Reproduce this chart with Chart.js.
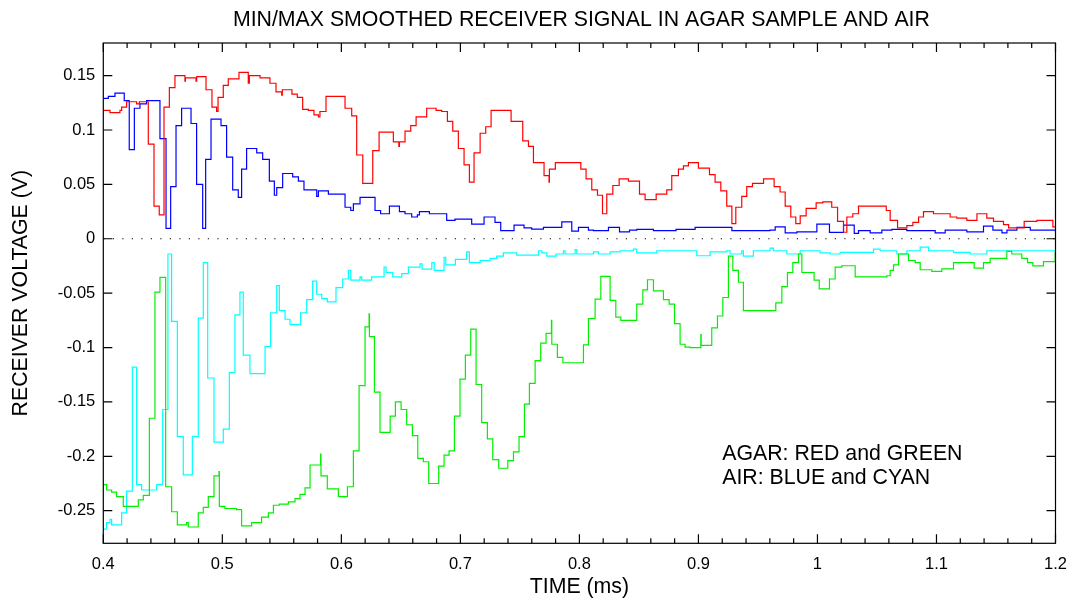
<!DOCTYPE html>
<html><head><meta charset="utf-8">
<script src="https://cdn.jsdelivr.net/npm/chart.js@4/dist/chart.umd.min.js"></script>
<style>html,body{margin:0;padding:0;background:#fff;overflow:hidden}</style>
</head><body>
<canvas id="c" width="1075" height="598"></canvas>
<script>
// ---------- DATA ----------
const titleText = "MIN/MAX SMOOTHED RECEIVER SIGNAL IN AGAR SAMPLE AND AIR";
const xTitle = "TIME (ms)";
const yTitle = "RECEIVER VOLTAGE (V)";
const noteLines = ["AGAR: RED and GREEN", "AIR: BLUE and CYAN"];
const noteT = 0.92;
const noteV = [-0.203, -0.2255];

const xTicks = [0.4,0.5,0.6,0.7,0.8,0.9,1.0,1.1,1.2];
const xTickLabels = ["0.4","0.5","0.6","0.7","0.8","0.9","1","1.1","1.2"];
const xMinor = [0.42,0.44,0.46,0.48,0.52,0.54,0.56,0.58,0.62,0.64,0.66,0.68,0.72,0.74,0.76,0.78,0.82,0.84,0.86,0.88,0.92,0.94,0.96,0.98,1.02,1.04,1.06,1.08,1.12,1.14,1.16,1.18];
const yTicks = [0.15,0.1,0.05,0,-0.05,-0.1,-0.15,-0.2,-0.25];
const yTickLabels = ["0.15","0.1","0.05","0","-0.05","-0.1","-0.15","-0.2","-0.25"];

const redT = [0.400,0.4056,0.414,0.4154,0.4196,0.428,0.4303,0.4378,0.4426,0.447,0.451,0.4555,0.4602,0.4686,0.469,0.4779,0.4785,0.4863,0.4913,0.4952,0.4964,0.5008,0.505,0.514,0.5218,0.5227,0.5317,0.540,0.5451,0.5499,0.5504,0.5585,0.563,0.5675,0.5723,0.577,0.5807,0.582,0.5871,0.6031,0.6087,0.6129,0.618,0.6264,0.6317,0.6437,0.6483,0.6488,0.6535,0.6583,0.6628,0.6717,0.6796,0.6843,0.6891,0.6936,0.6983,0.7031,0.7076,0.7115,0.7166,0.7213,0.7258,0.7426,0.7524,0.7572,0.7614,0.7703,0.7745,0.7748,0.7798,0.8012,0.8056,0.8104,0.8152,0.8194,0.823,0.8281,0.8334,0.8412,0.8505,0.8552,0.8645,0.8734,0.8776,0.8832,0.8874,0.8916,0.900,0.9093,0.914,0.9188,0.9238,0.9281,0.9314,0.9364,0.9406,0.9454,0.9547,0.9636,0.9686,0.9729,0.9776,0.9818,0.9855,0.9905,0.9989,1.0045,1.012,1.0169,1.0219,1.0247,1.0297,1.0345,1.0578,1.0611,1.0673,1.0751,1.0802,1.085,1.0891,1.0975,1.1115,1.1171,1.1255,1.134,1.1423,1.1479,1.1563,1.1606,1.1661,1.1737,1.1844,1.1978,1.200];
const redV = [0.118,0.116,0.118,0.121,0.126,0.124,0.126,0.087,0.030,0.022,0.121,0.139,0.150,0.145,0.148,0.145,0.149,0.137,0.121,0.117,0.130,0.141,0.147,0.153,0.143,0.150,0.148,0.143,0.135,0.132,0.137,0.133,0.130,0.119,0.118,0.114,0.112,0.117,0.131,0.120,0.113,0.077,0.051,0.081,0.098,0.089,0.085,0.089,0.099,0.104,0.112,0.120,0.118,0.117,0.108,0.099,0.083,0.068,0.052,0.079,0.097,0.103,0.118,0.108,0.090,0.085,0.070,0.058,0.052,0.064,0.070,0.064,0.055,0.045,0.040,0.023,0.041,0.049,0.055,0.053,0.041,0.036,0.041,0.045,0.058,0.064,0.067,0.070,0.065,0.059,0.052,0.044,0.030,0.014,0.029,0.039,0.048,0.051,0.055,0.048,0.043,0.030,0.020,0.014,0.021,0.028,0.033,0.034,0.029,0.016,0.006,0.020,0.023,0.030,0.026,0.017,0.010,0.012,0.015,0.020,0.025,0.023,0.020,0.019,0.017,0.023,0.019,0.016,0.013,0.010,0.010,0.016,0.017,0.011,0.011];

const blueT = [0.400,0.4042,0.4098,0.4176,0.4218,0.4261,0.4308,0.4364,0.4476,0.4527,0.4566,0.4611,0.4658,0.4737,0.4784,0.4835,0.486,0.4905,0.4989,0.5036,0.5087,0.5134,0.5162,0.5204,0.5289,0.5339,0.5395,0.5437,0.5457,0.5507,0.5591,0.5639,0.5686,0.5793,0.5807,0.5891,0.6031,0.6079,0.6101,0.6157,0.6283,0.633,0.6404,0.6488,0.6535,0.6591,0.6639,0.6656,0.674,0.6885,0.6955,0.7095,0.7199,0.7291,0.7339,0.7451,0.7535,0.7599,0.7698,0.7852,0.7936,0.7992,0.8076,0.8118,0.8244,0.8337,0.8421,0.8482,0.8622,0.8812,0.8972,0.9042,0.9281,0.960,0.9645,0.9729,0.9827,0.9995,1.0101,1.0219,1.0309,1.0345,1.0443,1.0541,1.0625,1.0751,1.0989,1.1073,1.1255,1.1395,1.1474,1.155,1.1592,1.1676,1.1788,1.200];
const blueV = [0.129,0.131,0.134,0.127,0.082,0.120,0.124,0.127,0.092,0.0095,0.048,0.104,0.120,0.106,0.050,0.0095,0.073,0.110,0.104,0.075,0.045,0.038,0.064,0.083,0.079,0.073,0.053,0.040,0.047,0.060,0.057,0.053,0.045,0.039,0.044,0.041,0.029,0.026,0.032,0.038,0.026,0.023,0.030,0.025,0.023,0.020,0.022,0.025,0.023,0.017,0.018,0.0135,0.020,0.015,0.0074,0.0126,0.010,0.0089,0.0104,0.0156,0.007,0.0104,0.008,0.0074,0.0104,0.0064,0.008,0.0086,0.0074,0.0086,0.0104,0.0104,0.0074,0.008,0.011,0.0055,0.0064,0.0135,0.0058,0.0126,0.0049,0.0074,0.0055,0.008,0.0086,0.0074,0.0055,0.008,0.0064,0.0116,0.008,0.0055,0.008,0.0104,0.008,0.008];

const cyanT = [0.400,0.4028,0.4056,0.407,0.4154,0.4196,0.4244,0.428,0.4322,0.4448,0.4499,0.4543,0.4574,0.4622,0.4672,0.4748,0.4798,0.484,0.4877,0.493,0.5008,0.5059,0.5106,0.5148,0.5176,0.5232,0.5359,0.5406,0.5457,0.5479,0.5527,0.5569,0.5658,0.5709,0.5759,0.5793,0.5835,0.5882,0.5955,0.6011,0.6059,0.6079,0.6157,0.6171,0.6255,0.6359,0.6376,0.6432,0.6507,0.6563,0.6661,0.6678,0.676,0.678,0.6863,0.6877,0.6958,0.7053,0.7076,0.7166,0.725,0.7305,0.7361,0.7474,0.7656,0.7684,0.7726,0.7804,0.7866,0.788,0.7964,0.7978,0.8118,0.816,0.8258,0.8342,0.8454,0.8482,0.865,0.8986,0.9098,0.9238,0.9266,0.9364,0.9378,0.9462,0.9602,0.963,0.9743,0.9855,1.0022,1.0107,1.0191,1.0471,1.0527,1.0667,1.0751,1.0863,1.0933,1.1143,1.1283,1.1423,1.200];
const cyanV = [-0.267,-0.261,-0.258,-0.263,-0.252,-0.232,-0.118,-0.226,-0.231,-0.226,-0.157,-0.014,-0.076,-0.182,-0.217,-0.182,-0.073,-0.022,-0.128,-0.187,-0.175,-0.123,-0.070,-0.049,-0.107,-0.124,-0.099,-0.068,-0.043,-0.066,-0.074,-0.079,-0.068,-0.056,-0.039,-0.051,-0.055,-0.058,-0.045,-0.037,-0.029,-0.038,-0.035,-0.038,-0.035,-0.026,-0.031,-0.035,-0.032,-0.026,-0.023,-0.028,-0.022,-0.029,-0.017,-0.024,-0.019,-0.012,-0.022,-0.020,-0.018,-0.016,-0.013,-0.015,-0.011,-0.013,-0.016,-0.014,-0.011,-0.014,-0.010,-0.014,-0.012,-0.014,-0.012,-0.011,-0.0095,-0.013,-0.011,-0.0156,-0.012,-0.011,-0.014,-0.011,-0.016,-0.011,-0.0086,-0.011,-0.014,-0.011,-0.013,-0.014,-0.0126,-0.0095,-0.011,-0.014,-0.011,-0.0077,-0.011,-0.0126,-0.014,-0.011,-0.011];

const greenT = [0.400,0.4028,0.407,0.4112,0.4168,0.4294,0.4336,0.4387,0.4434,0.4476,0.4524,0.4574,0.4622,0.470,0.4714,0.4798,0.484,0.4882,0.493,0.4972,0.4975,0.5022,0.512,0.5162,0.5246,0.533,0.5387,0.5429,0.5479,0.5555,0.5611,0.5653,0.5695,0.5737,0.5826,0.5829,0.5882,0.5975,0.6051,0.6101,0.6149,0.6199,0.6233,0.6236,0.6278,0.6325,0.641,0.6454,0.6502,0.6549,0.6597,0.6642,0.6689,0.6734,0.6818,0.6863,0.6905,0.695,0.6997,0.7042,0.7087,0.7132,0.7179,0.7227,0.7272,0.7322,0.7398,0.7446,0.7493,0.7538,0.758,0.7628,0.7675,0.772,0.7765,0.7768,0.7815,0.7861,0.8034,0.8076,0.8132,0.818,0.8258,0.8306,0.8348,0.8482,0.8533,0.8572,0.8622,0.8706,0.8754,0.8799,0.8846,0.8888,0.893,0.902,0.9023,0.9112,0.916,0.9205,0.9252,0.9289,0.9336,0.9378,0.965,0.9701,0.9748,0.9793,0.9841,0.9869,0.9972,1.0015,1.0101,1.0149,1.0205,1.0317,1.0583,1.0611,1.0639,1.0681,1.0765,1.0821,1.0863,1.0961,1.1045,1.1143,1.1317,1.1395,1.1451,1.1591,1.1633,1.1717,1.1765,1.181,1.1899,1.1997,1.200];
const greenV = [-0.226,-0.231,-0.233,-0.237,-0.246,-0.240,-0.236,-0.165,-0.049,-0.0355,-0.228,-0.251,-0.263,-0.261,-0.265,-0.252,-0.247,-0.237,-0.218,-0.214,-0.246,-0.248,-0.249,-0.264,-0.261,-0.256,-0.252,-0.245,-0.244,-0.242,-0.239,-0.235,-0.229,-0.208,-0.198,-0.218,-0.230,-0.237,-0.228,-0.195,-0.135,-0.081,-0.069,-0.090,-0.141,-0.178,-0.163,-0.150,-0.157,-0.171,-0.181,-0.202,-0.205,-0.225,-0.209,-0.199,-0.195,-0.163,-0.129,-0.107,-0.083,-0.134,-0.169,-0.184,-0.203,-0.211,-0.204,-0.196,-0.182,-0.152,-0.133,-0.112,-0.096,-0.087,-0.075,-0.097,-0.109,-0.114,-0.0975,-0.0735,-0.0555,-0.0346,-0.0567,-0.072,-0.075,-0.060,-0.047,-0.0377,-0.048,-0.056,-0.060,-0.078,-0.097,-0.0996,-0.100,-0.088,-0.098,-0.082,-0.071,-0.054,-0.016,-0.029,-0.040,-0.066,-0.059,-0.044,-0.031,-0.022,-0.014,-0.031,-0.038,-0.046,-0.037,-0.026,-0.0248,-0.035,-0.034,-0.029,-0.024,-0.014,-0.020,-0.022,-0.0285,-0.030,-0.0276,-0.022,-0.027,-0.022,-0.018,-0.0116,-0.014,-0.018,-0.022,-0.025,-0.021,-0.012,-0.012];

const zeroT = [0.4, 1.2];
const zeroV = [0, 0];

// ---------- BUILD ----------
const pts = (t, v) => t.map((x, i) => ({x: x, y: v[i]}));
const FONT = '"Liberation Sans", Arial, Helvetica, sans-serif';

const framePlugin = {
  id: 'frame',
  afterDatasetsDraw(chart) {
    const {ctx, chartArea: a, scales: {x, y}} = chart;
    ctx.save();
    ctx.strokeStyle = '#000';
    ctx.lineWidth = 1.2;
    ctx.strokeRect(a.left, a.top, a.right - a.left, a.bottom - a.top);
    ctx.beginPath();
    xTicks.forEach(v => { const p = x.getPixelForValue(v);
      ctx.moveTo(p, a.bottom); ctx.lineTo(p, a.bottom - 9);
      ctx.moveTo(p, a.top); ctx.lineTo(p, a.top + 9); });
    xMinor.forEach(v => { const p = x.getPixelForValue(v);
      ctx.moveTo(p, a.bottom); ctx.lineTo(p, a.bottom - 5);
      ctx.moveTo(p, a.top); ctx.lineTo(p, a.top + 5); });
    yTicks.forEach(v => { const p = y.getPixelForValue(v);
      ctx.moveTo(a.left, p); ctx.lineTo(a.left + 9, p);
      ctx.moveTo(a.right, p); ctx.lineTo(a.right - 9, p); });
    ctx.stroke();

    ctx.fillStyle = '#000';
    ctx.font = '21.3px ' + FONT;
    ctx.textBaseline = 'alphabetic';
    ctx.textAlign = 'center';
    const cx = (a.left + a.right) / 2;
    ctx.fillText(titleText, cx + 2, 26);
    ctx.fillText(xTitle, cx, 593);
    ctx.save();
    ctx.translate(27, (a.top + a.bottom) / 2);
    ctx.rotate(-Math.PI / 2);
    ctx.fillText(yTitle, 0, 0);
    ctx.restore();
    ctx.textAlign = 'left';
    noteLines.forEach((s, i) => ctx.fillText(s, x.getPixelForValue(noteT), y.getPixelForValue(noteV[i])));
    ctx.restore();
  }
};

const lineDs = (label, t, v, color) => ({
  label, data: pts(t, v), borderColor: color, backgroundColor: color,
  borderWidth: 1.2, pointRadius: 0, stepped: true, fill: false, tension: 0
});

new Chart(document.getElementById('c'), {
  type: 'line',
  data: {
    datasets: [
      {label: 'zero', data: pts(zeroT, zeroV), borderColor: '#000', borderWidth: 1.2,
       borderDash: [1.2, 8.3], pointRadius: 0, fill: false},
      lineDs('Agar max', redT, redV, '#ff0000'),
      lineDs('Air max', blueT, blueV, '#0000ff'),
      lineDs('Agar min', greenT, greenV, '#00f000'),
      lineDs('Air min', cyanT, cyanV, '#00ffff')
    ]
  },
  options: {
    responsive: false,
    animation: false,
    devicePixelRatio: 1,
    layout: {padding: {top: 43, right: 19.5, left: 0, bottom: 0}},
    plugins: {legend: {display: false}, title: {display: false}, tooltip: {enabled: false}},
    scales: {
      x: {
        type: 'linear', min: 0.4, max: 1.2,
        grid: {display: false, drawTicks: false},
        border: {display: false},
        afterBuildTicks: s => { s.ticks = xTicks.map(v => ({value: v})); },
        afterFit: s => { s.height = 54.7; s.paddingLeft = 0; s.paddingRight = 0; },
        ticks: {
          autoSkip: false, maxRotation: 0, padding: 11, color: '#000',
          font: {family: FONT, size: 16.5},
          callback: (val, i) => xTickLabels[xTicks.indexOf(val)] ?? ''
        }
      },
      y: {
        type: 'linear', min: -0.28, max: 0.18,
        grid: {display: false, drawTicks: false},
        border: {display: false},
        afterBuildTicks: s => { s.ticks = yTicks.map(v => ({value: v})); },
        afterFit: s => { s.width = 103.3; s.paddingTop = 0; s.paddingBottom = 0; },
        ticks: {
          autoSkip: false, padding: 8, color: '#000',
          font: {family: FONT, size: 16.5},
          callback: (val, i) => yTickLabels[yTicks.indexOf(val)] ?? ''
        }
      }
    }
  },
  plugins: [framePlugin]
});
</script>
</body></html>
